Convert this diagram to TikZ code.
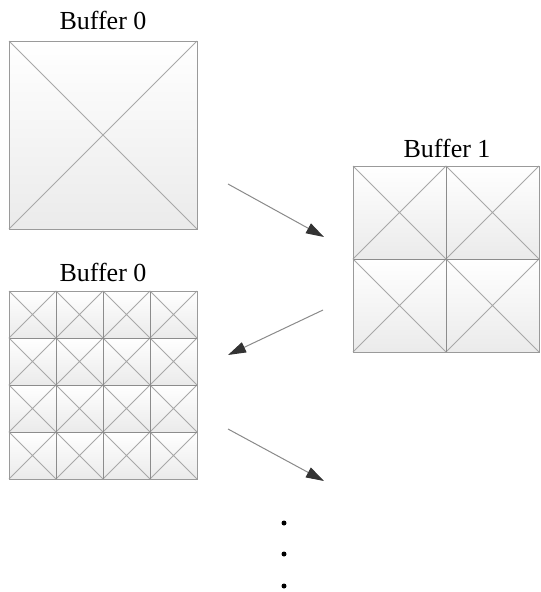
\documentclass[tikz,border=0pt]{standalone}
\usepackage{fontspec}
\setmainfont{Liberation Serif}
\usetikzlibrary{arrows.meta}
\definecolor{boxgray}{HTML}{9A9A9A}
\definecolor{diaggray}{HTML}{A8A8A8}
\definecolor{gridgray}{HTML}{8C8C8C}
\definecolor{arrgray}{HTML}{8A8A8A}
\definecolor{headgray}{HTML}{333333}
\newcommand\gridbox[5]{%
  \pgfmathsetmacro\cs{#4/#5}
  \foreach \i in {1,...,#5}{\foreach \j in {1,...,#5}{
    \pgfmathsetmacro\xa{#2+(\i-1)*\cs}
    \pgfmathsetmacro\ya{#3+(\j-1)*\cs}
    \shade[cell] (\xa,\ya) rectangle ++(\cs,\cs);
    \draw[diag] (\xa,\ya) -- ++(\cs,\cs) (\xa+\cs,\ya) -- ++(-\cs,\cs);
  }}
  \foreach \k in {1,...,#5}{
    \draw[gridline] (#2+\k*\cs,#3) -- ++(0,#4);
    \draw[gridline] (#2,#3+\k*\cs) -- ++(#4,0);
  }
  \node[draw=boxgray, line width=1.1pt, minimum size=#4pt, inner sep=0pt, anchor=north west] (#1) at (#2,#3) {};
}
\begin{document}
\begin{tikzpicture}[x=1pt,y=-1pt,
  cell/.style={top color=white,bottom color=black!8},
  diag/.style={draw=diaggray,line width=0.8pt},
  gridline/.style={draw=gridgray,line width=1pt},
  lbl/.style={font=\fontsize{26}{30}\selectfont,inner sep=0pt},
  arr/.style={draw=arrgray,line width=1pt,-{Triangle[length=18pt,width=11pt,color=headgray]}},
  dotn/.style={circle,fill=black,inner sep=0pt,minimum size=5pt}]
\useasboundingbox (0,0) rectangle (541,592);
\gridbox{b0}{9}{41}{188}{1}
\gridbox{b1}{353}{166}{186}{2}
\gridbox{b2}{9}{291}{188}{4}
\node[lbl] (l0) at (103,20) {Buffer 0};
\node[lbl] (l1) at (447,148) {Buffer 1};
\node[lbl] (l2) at (103,272) {Buffer 0};
\coordinate (a1s) at (228,184);
\coordinate (a1e) at (324,237);
\coordinate (a2s) at (323,310);
\coordinate (a2e) at (228,355);
\coordinate (a3s) at (228,429);
\coordinate (a3e) at (324,481);
\draw[arr] (a1s) -- (a1e);
\draw[arr] (a2s) -- (a2e);
\draw[arr] (a3s) -- (a3e);
\node[dotn] (d1) at (284,523) {};
\node[dotn] (d2) at (284,554) {};
\node[dotn] (d3) at (284,586) {};
\end{tikzpicture}
\end{document}
